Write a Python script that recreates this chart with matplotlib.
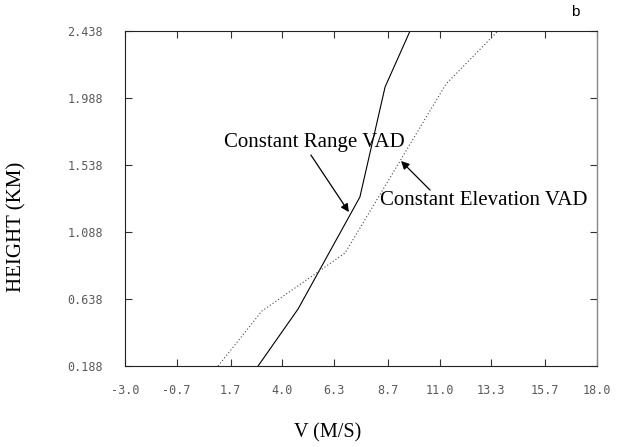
import numpy as np
import matplotlib.pyplot as plt

# VAD wind profiles: speed (m/s) versus height (km)
range_vad_v = [2.92, 4.70, 7.45, 8.57, 9.68]
range_vad_h = [0.188, 0.571, 1.323, 2.062, 2.438]

elev_vad_v = [1.14, 3.09, 6.79, 11.28, 13.59]
elev_vad_h = [0.188, 0.557, 0.947, 2.082, 2.438]

xticks = [-3.0, -0.7, 1.7, 4.0, 6.3, 8.7, 11.0, 13.3, 15.7, 18.0]
yticks = [0.188, 0.638, 1.088, 1.538, 1.988, 2.438]

fig = plt.figure(figsize=(6.21, 4.47), dpi=100)
ax = fig.add_axes([0.2013, 0.1812, 0.7601, 0.7494])

ax.plot(range_vad_v, range_vad_h, color='black', lw=0.8)
ax.plot(elev_vad_v, elev_vad_h, color='#444444', lw=0.8, linestyle=(0, (1, 2)))

ax.set_xlim(-3.0, 18.0)
ax.set_ylim(0.188, 2.438)
ax.set_xticks(xticks)
ax.set_yticks(yticks)
ax.set_xticklabels(['%.1f' % v for v in xticks])
ax.set_yticklabels(['%.3f' % v for v in yticks])

ax.tick_params(direction='in', length=5, width=0.8, color='#333333',
               top=True, right=True, labelsize=8.5, labelcolor='#5a5a5a')
ax.tick_params(axis='x', pad=13)
ax.tick_params(axis='y', pad=16)
for lab in ax.get_xticklabels() + ax.get_yticklabels():
    lab.set_family('DejaVu Sans Mono')

for side in ['left', 'bottom', 'top']:
    ax.spines[side].set_color('#222222')
    ax.spines[side].set_linewidth(0.8)
ax.spines['right'].set_color('#888888')
ax.spines['right'].set_linewidth(1.0)

serif = 'Liberation Serif'
fig.text(17 / 621, 1 - 227 / 447, 'HEIGHT (KM)', family=serif, fontsize=15,
         rotation=90, ha='center', va='center')
fig.text(327.5 / 621, 1 - 433 / 447, 'V (M/S)', family=serif, fontsize=14.5,
         ha='center', va='center')

ax.annotate('', xy=(6.96, 1.222), xytext=(5.27, 1.605),
            arrowprops=dict(arrowstyle='-|>', color='black', lw=0.9,
                            mutation_scale=12, shrinkA=0, shrinkB=0))
ax.annotate('', xy=(9.28, 1.565), xytext=(10.57, 1.370),
            arrowprops=dict(arrowstyle='-|>', color='black', lw=0.9,
                            mutation_scale=12, shrinkA=0, shrinkB=0))
ax.text(1.40, 1.686, 'Constant Range VAD', family=serif, fontsize=15,
        va='center', ha='left')
ax.text(8.34, 1.303, 'Constant Elevation VAD', family=serif, fontsize=15,
        va='center', ha='left')

fig.text(575 / 621, 1 - 12 / 447, 'b', family='Liberation Sans', fontsize=11,
         ha='center', va='center')

fig.savefig('out.png', dpi=100)
